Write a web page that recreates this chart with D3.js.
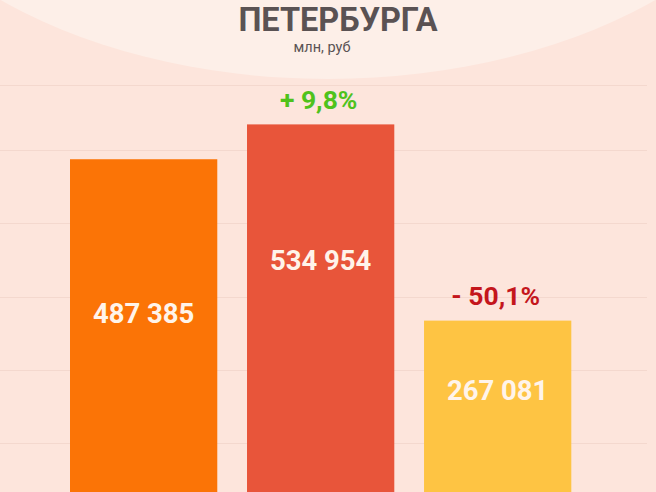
<!DOCTYPE html>
<html><head><meta charset="utf-8">
<script src="https://cdn.jsdelivr.net/npm/d3@7"></script>
<style>html,body{margin:0;padding:0;background:#fde5dc;overflow:hidden}</style>
</head><body>
<script>
const categories = ["2019", "2020", "2021"];
const values = [487385, 534954, 267081];
const valueLabels = ["487 385", "534 954", "267 081"];
const changeLabels = ["", "+ 9,8%", "- 50,1%"];
const gridTicks = [100000, 200000, 300000, 400000, 500000];
const title = "ПЕТЕРБУРГА";
const subtitle = "млн, руб";

const W = 656, H = 492;
const barColors = ["#fb7406", "#e8553a", "#fec443"];
const changeColors = ["#000", "#4fc21c", "#c4161c"];
const labelBaselines = [322.5, 269.5, 399.5];

const rows = categories.map((c, i) => ({c, v: values[i], label: valueLabels[i], change: changeLabels[i],
  color: barColors[i], changeColor: changeColors[i], lb: labelBaselines[i]}));

const svg = d3.select("body").append("svg").attr("width", W).attr("height", H);
svg.append("rect").attr("width", W).attr("height", H).attr("fill", "#fde5dc");
svg.append("ellipse").attr("cx", 328).attr("cy", -215).attr("rx", 480).attr("ry", 294).attr("fill", "#fdefe8");

const x = d3.scaleBand().domain(categories).range([70, 571.3]).paddingInner(0.168).paddingOuter(0);
const y = d3.scaleLinear().domain([0, 500000]).range([516.25, 150]);

svg.append("line").attr("x1", 0).attr("x2", 647).attr("y1", 85.5).attr("y2", 85.5)
  .attr("stroke", "#f4d8ce").attr("stroke-width", 1);
svg.append("g").selectAll("line").data(gridTicks).join("line")
  .attr("x1", 0).attr("x2", 647)
  .attr("y1", d => Math.round(y(d)) + 0.5).attr("y2", d => Math.round(y(d)) + 0.5)
  .attr("stroke", "#f4d8ce").attr("stroke-width", 1);

svg.append("g").selectAll("rect").data(rows).join("rect")
  .attr("x", d => x(d.c))
  .attr("width", x.bandwidth())
  .attr("y", d => y(d.v))
  .attr("height", d => y(0) - y(d.v))
  .attr("fill", d => d.color);

svg.append("g").selectAll("text").data(rows).join("text")
  .attr("x", d => x(d.c) + x.bandwidth() / 2)
  .attr("y", d => d.lb)
  .attr("text-anchor", "middle")
  .attr("font-family", "Roboto, sans-serif").attr("font-weight", 700).attr("font-size", 27.5)
  .attr("fill", "#fff4ea")
  .text(d => d.label);

svg.append("g").selectAll("text").data(rows.filter(d => d.change)).join("text")
  .attr("x", d => x(d.c) + x.bandwidth() / 2 - 2)
  .attr("y", d => y(d.v) - 15.5)
  .attr("text-anchor", "middle")
  .attr("font-family", "Roboto, sans-serif").attr("font-weight", 700).attr("font-size", 26.5)
  .attr("fill", d => d.changeColor)
  .text(d => d.change);

svg.append("text").attr("x", 338).attr("y", 31).attr("text-anchor", "middle")
  .attr("font-family", "Roboto, sans-serif").attr("font-weight", 700).attr("font-size", 32.5)
  .attr("fill", "#5a5253").text(title);
svg.append("text").attr("x", 322).attr("y", 52).attr("text-anchor", "middle")
  .attr("font-family", "Roboto, sans-serif").attr("font-size", 14.5)
  .attr("fill", "#5a5354").text(subtitle);
</script>
</body></html>
